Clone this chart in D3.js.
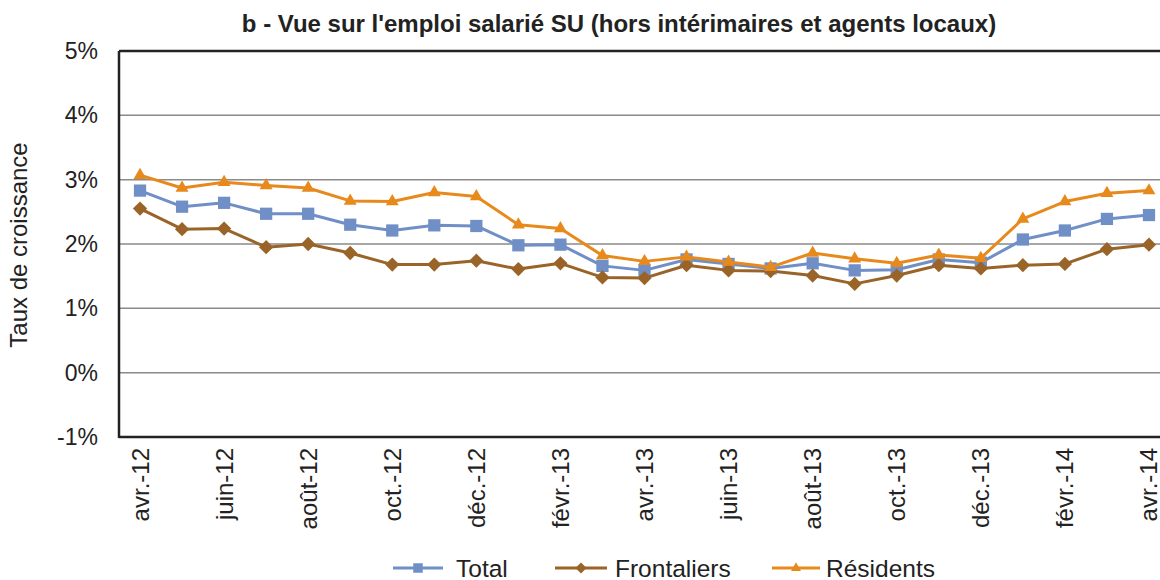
<!DOCTYPE html>
<html><head><meta charset="utf-8">
<script src="https://cdn.jsdelivr.net/npm/d3@7"></script>
<style>body{margin:0;background:#fff}svg{display:block}text{font-family:"Liberation Sans",Arial,sans-serif;fill:#222}</style>
</head><body>
<svg id="c" width="1160" height="580"></svg>
<script>
const months = ["avr.-12","mai-12","juin-12","juil.-12","août-12","sept.-12","oct.-12","nov.-12","déc.-12","janv.-13","févr.-13","mars-13","avr.-13","mai-13","juin-13","juil.-13","août-13","sept.-13","oct.-13","nov.-13","déc.-13","janv.-14","févr.-14","mars-14","avr.-14"];
const tickMonths = ["avr.-12","juin-12","août-12","oct.-12","déc.-12","févr.-13","avr.-13","juin-13","août-13","oct.-13","déc.-13","févr.-14","avr.-14"];
const total = [2.83,2.58,2.64,2.47,2.47,2.30,2.21,2.29,2.28,1.98,1.99,1.66,1.59,1.76,1.69,1.62,1.70,1.59,1.60,1.76,1.71,2.07,2.21,2.39,2.45];
const frontaliers = [2.55,2.23,2.24,1.95,2.00,1.86,1.68,1.68,1.74,1.61,1.70,1.48,1.47,1.67,1.59,1.58,1.51,1.38,1.51,1.67,1.62,1.67,1.69,1.92,1.99];
const residents = [3.07,2.87,2.96,2.91,2.87,2.67,2.66,2.80,2.74,2.30,2.24,1.82,1.73,1.80,1.72,1.64,1.86,1.77,1.70,1.83,1.78,2.39,2.66,2.79,2.83];
const yTicks = [-1,0,1,2,3,4,5];
const seriesNames = ["Total","Frontaliers","Résidents"];
const title = "b - Vue sur l'emploi salarié SU (hors intérimaires et agents locaux)";
const yTitle = "Taux de croissance";

const colors = {"Total":"#6f8fc6","Frontaliers":"#9a6428","Résidents":"#e8891c"};
const symbols = {"Total":d3.symbolSquare,"Frontaliers":d3.symbolDiamond2,"Résidents":d3.symbolTriangle2};
const symSize = {"Total":150,"Frontaliers":130,"Résidents":120};

const svg = d3.select("#c");
const L=119, R=1170, T=51, B=437;
const x = d3.scalePoint().domain(months).range([L,R]).padding(0.5);
const y = d3.scaleLinear().domain([-1,5]).range([B,T]);

// title
svg.append("text").attr("x",619).attr("y",32).attr("text-anchor","middle")
  .style("font-weight","bold").style("font-size","24px").text(title);

// gridlines
svg.append("g").selectAll("line").data(yTicks.filter(d=>d>-1 && d<5)).join("line")
  .attr("x1",L).attr("x2",R).attr("y1",d=>y(d)).attr("y2",d=>y(d))
  .attr("stroke","#8a8a8a").attr("stroke-width",1.5);

// y axis
const yAxis = d3.axisLeft(y).tickValues(yTicks).tickSize(0).tickPadding(21).tickFormat(d=>d+"%");
const ya = svg.append("g").attr("transform",`translate(${L},0)`).call(yAxis);
ya.select(".domain").remove();
ya.selectAll("text").style("font-size","23px").style("font-family","'Liberation Sans',Arial,sans-serif").attr("fill","#222");

// frame
svg.append("line").attr("x1",L).attr("x2",R).attr("y1",T).attr("y2",T).attr("stroke","#222").attr("stroke-width",2.5);
svg.append("line").attr("x1",L).attr("x2",R).attr("y1",B).attr("y2",B).attr("stroke","#222").attr("stroke-width",2.5);
svg.append("line").attr("x1",L).attr("x2",L).attr("y1",T).attr("y2",B+1).attr("stroke","#222").attr("stroke-width",2.5);

// x axis labels
const xAxis = d3.axisBottom(x).tickValues(tickMonths).tickSize(0).tickPadding(0);
const xa = svg.append("g").attr("transform",`translate(0,${B})`).call(xAxis);
xa.select(".domain").remove();
xa.selectAll("text").attr("transform","translate(8,11) rotate(-90)").attr("text-anchor","end")
  .attr("x",0).attr("y",0).attr("dy","0")
  .style("font-size","24px").style("font-family","'Liberation Sans',Arial,sans-serif").attr("fill","#222");

// y title
svg.append("text").attr("transform","translate(27,245) rotate(-90)").attr("text-anchor","middle")
  .style("font-size","24px").text(yTitle);

// series
const data = {"Total":total,"Frontaliers":frontaliers,"Résidents":residents};
const line = d3.line().x((d,i)=>x(months[i])).y(d=>y(d));
const order = ["Total","Frontaliers","Résidents"];
order.forEach(name=>{
  const g = svg.append("g");
  g.append("path").datum(data[name]).attr("d",line).attr("fill","none")
    .attr("stroke",colors[name]).attr("stroke-width",3).attr("stroke-linejoin","round");
  g.selectAll("path.m").data(data[name]).join("path").attr("class","m")
    .attr("transform",(d,i)=>`translate(${x(months[i])},${y(d)})`)
    .attr("d",d3.symbol(symbols[name],symSize[name])).attr("fill",colors[name]);
});

// legend
const legendX = {"Total":[393,443,456],"Frontaliers":[555,607,615],"Résidents":[772,820,826]};
const ly = 568;
seriesNames.forEach(name=>{
  const [a,b,t] = legendX[name];
  const g = svg.append("g");
  g.append("line").attr("x1",a).attr("x2",b).attr("y1",ly).attr("y2",ly).attr("stroke",colors[name]).attr("stroke-width",3);
  g.append("path").attr("transform",`translate(${(a+b)/2},${ly})`).attr("d",d3.symbol(symbols[name],symSize[name]*0.6)).attr("fill",colors[name]);
  g.append("text").attr("x",t).attr("y",ly).attr("dy","0.35em").style("font-size","24.5px").text(name);
});
</script>
</body></html>
